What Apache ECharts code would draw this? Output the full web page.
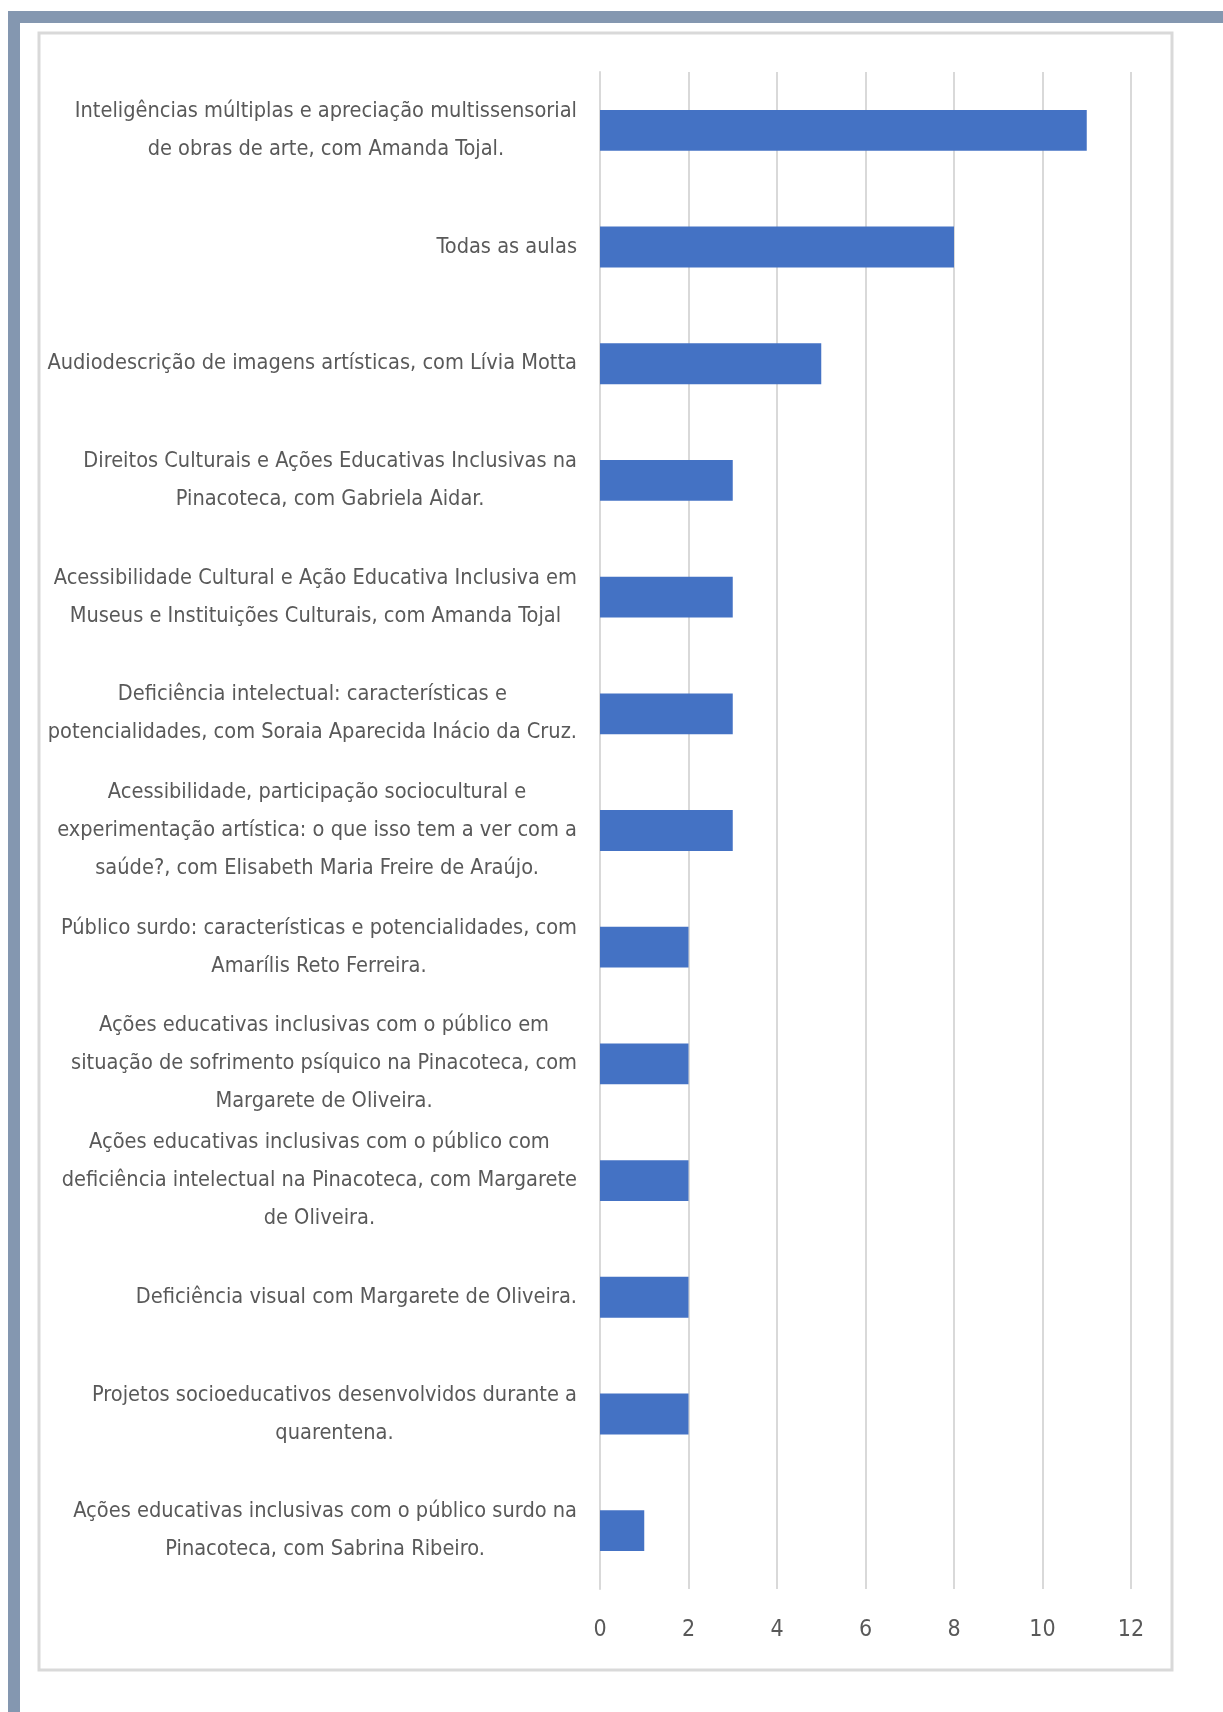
<!DOCTYPE html>
<html>
<head>
<meta charset="utf-8">
<title>Aulas</title>
<script src="https://cdn.jsdelivr.net/npm/echarts@6/dist/echarts.min.js"></script>
<style>
  html, body { margin: 0; padding: 0; background: #fff; }
  #chart { width: 1223px; height: 1712px; }
</style>
</head>
<body>
<div id="chart"></div>
<script>
// categorias (de cima para baixo), quebras de linha como na imagem
var categories = [
    'Inteligências múltiplas e apreciação multissensorial\nde obras de arte, com Amanda Tojal.',
    'Todas as aulas',
    'Audiodescrição de imagens artísticas, com Lívia Motta',
    'Direitos Culturais e Ações Educativas Inclusivas na\nPinacoteca, com Gabriela Aidar.',
    'Acessibilidade Cultural e Ação Educativa Inclusiva em\nMuseus e Instituições Culturais, com Amanda Tojal',
    'Deficiência intelectual: características e\npotencialidades, com Soraia Aparecida Inácio da Cruz.',
    'Acessibilidade, participação sociocultural e\nexperimentação artística: o que isso tem a ver com a\nsaúde?, com Elisabeth Maria Freire de Araújo.',
    'Público surdo: características e potencialidades, com\nAmarílis Reto Ferreira.',
    'Ações educativas inclusivas com o público em\nsituação de sofrimento psíquico na Pinacoteca, com\nMargarete de Oliveira.',
    'Ações educativas inclusivas com o público com\ndeficiência intelectual na Pinacoteca, com Margarete\nde Oliveira.',
    'Deficiência visual com Margarete de Oliveira.',
    'Projetos socioeducativos desenvolvidos durante a\nquarentena.',
    'Ações educativas inclusivas com o público surdo na\nPinacoteca, com Sabrina Ribeiro.'
];
var values = [11, 8, 5, 3, 3, 3, 3, 2, 2, 2, 2, 2, 1];
var xTicks = [0, 2, 4, 6, 8, 10, 12];

var fontFamily = '"Liberation Sans Narrow", "DejaVu Sans Condensed", "Open Sans", sans-serif';
var textColor = '#595959';
var gridColor = '#d9d9d9';

var myChart = echarts.init(document.getElementById('chart'), null, { renderer: 'canvas' });

// cada linha do rótulo centralizada dentro do bloco (como no Excel)
function wrapLabel(value) {
    return value.split('\n').map(function (line) {
        return '{c|' + line + '}';
    }).join('\n');
}

var option = {
    backgroundColor: '#ffffff',
    animation: false,
    grid: {
        left: 600,
        right: 92,
        top: 72,
        bottom: 123,
        containLabel: false
    },
    xAxis: {
        type: 'value',
        min: xTicks[0],
        max: xTicks[xTicks.length - 1],
        interval: 2,
        axisLine: { show: false },
        axisTick: { show: false },
        splitLine: { show: true, lineStyle: { color: gridColor, width: 2 } },
        axisLabel: {
            margin: 30,
            color: textColor,
            fontFamily: fontFamily,
            fontSize: 23
        }
    },
    yAxis: {
        type: 'category',
        inverse: true,
        data: categories,
        axisLine: { show: true, lineStyle: { color: gridColor, width: 2 } },
        axisTick: { show: false },
        axisLabel: {
            margin: 23,
            align: 'right',
            formatter: wrapLabel,
            rich: {
                c: {
                    align: 'center',
                    color: textColor,
                    fontFamily: fontFamily,
                    fontSize: 21.6,
                    lineHeight: 38
                }
            }
        }
    },
    series: [
        {
            type: 'bar',
            data: values,
            barCategoryGap: '65%',
            itemStyle: { color: '#4472c4' }
        }
    ],
    // moldura da imagem
    graphic: [
        { type: 'rect', shape: { x: 8, y: 11, width: 1215, height: 12 }, style: { fill: '#8497b0' }, silent: true },
        { type: 'rect', shape: { x: 8, y: 11, width: 12, height: 1701 }, style: { fill: '#8497b0' }, silent: true },
        { type: 'rect', shape: { x: 39, y: 33, width: 1133, height: 1637 }, style: { fill: 'none', stroke: gridColor, lineWidth: 3 }, silent: true }
    ]
};
myChart.setOption(option);
</script>
</body>
</html>
